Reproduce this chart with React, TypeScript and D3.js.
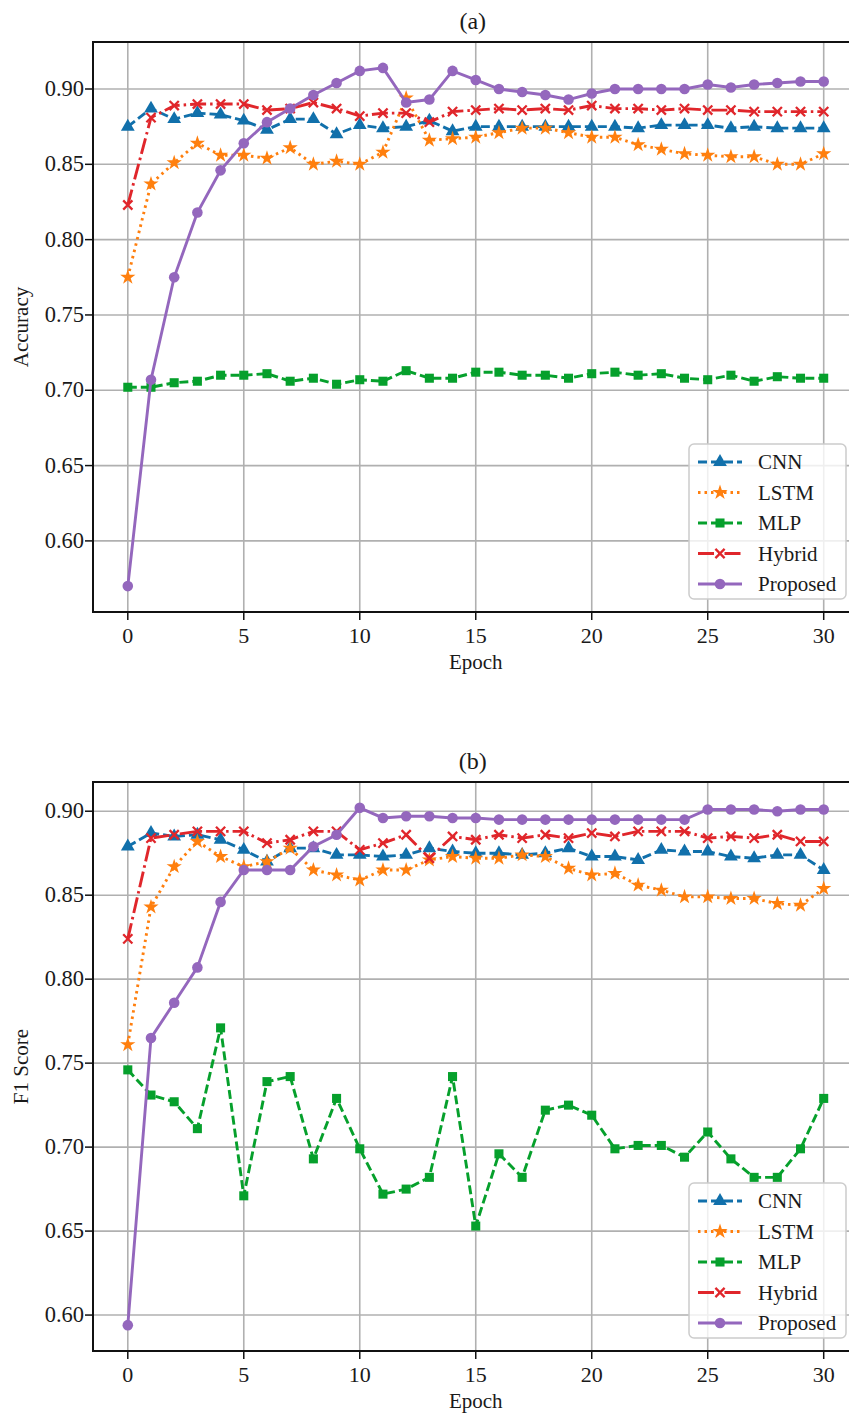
import React from 'react';
import * as d3 from 'd3';

// series names + look (matplotlib-ish)
const names = ['CNN', 'LSTM', 'MLP', 'Hybrid', 'Proposed'];
const colors = ['#1170ab', '#ff7f0e', '#06a02c', '#e0262b', '#9467bd'];
const dashes = ['9,4', '2.5,4', '9,4', '16,4,2.5,4', 'none'];
const markers = ['triangle', 'star', 'square', 'x', 'circle'];

const xTicks = [0, 5, 10, 15, 20, 25, 30];
const yTicks = [0.6, 0.65, 0.7, 0.75, 0.8, 0.85, 0.9];

// (a) accuracy per epoch 0..30
const accCNN = [0.875, 0.887, 0.880, 0.884, 0.883, 0.879, 0.873, 0.880, 0.880, 0.870, 0.876, 0.874, 0.875, 0.879, 0.872, 0.875, 0.875, 0.875, 0.875, 0.875, 0.875, 0.875, 0.874, 0.876, 0.876, 0.876, 0.874, 0.875, 0.874, 0.874, 0.874];
const accLSTM = [0.775, 0.837, 0.851, 0.864, 0.856, 0.856, 0.854, 0.861, 0.850, 0.852, 0.850, 0.858, 0.894, 0.866, 0.867, 0.868, 0.871, 0.874, 0.874, 0.871, 0.868, 0.868, 0.863, 0.860, 0.857, 0.856, 0.855, 0.855, 0.850, 0.850, 0.857];
const accMLP = [0.702, 0.702, 0.705, 0.706, 0.710, 0.710, 0.711, 0.706, 0.708, 0.704, 0.707, 0.706, 0.713, 0.708, 0.708, 0.712, 0.712, 0.710, 0.710, 0.708, 0.711, 0.712, 0.710, 0.711, 0.708, 0.707, 0.710, 0.706, 0.709, 0.708, 0.708];
const accHybrid = [0.823, 0.881, 0.889, 0.890, 0.890, 0.890, 0.886, 0.887, 0.891, 0.887, 0.882, 0.884, 0.884, 0.878, 0.885, 0.886, 0.887, 0.886, 0.887, 0.886, 0.889, 0.887, 0.887, 0.886, 0.887, 0.886, 0.886, 0.885, 0.885, 0.885, 0.885];
const accProposed = [0.570, 0.707, 0.775, 0.818, 0.846, 0.864, 0.878, 0.887, 0.896, 0.904, 0.912, 0.914, 0.891, 0.893, 0.912, 0.906, 0.900, 0.898, 0.896, 0.893, 0.897, 0.900, 0.900, 0.900, 0.900, 0.903, 0.901, 0.903, 0.904, 0.905, 0.905];

// (b) F1 score per epoch 0..30
const f1CNN = [0.879, 0.887, 0.885, 0.886, 0.883, 0.877, 0.870, 0.878, 0.878, 0.874, 0.874, 0.873, 0.874, 0.878, 0.876, 0.875, 0.875, 0.874, 0.875, 0.878, 0.873, 0.873, 0.871, 0.877, 0.876, 0.876, 0.873, 0.872, 0.874, 0.874, 0.865];
const f1LSTM = [0.761, 0.843, 0.867, 0.882, 0.873, 0.867, 0.870, 0.878, 0.865, 0.862, 0.859, 0.865, 0.865, 0.871, 0.873, 0.872, 0.872, 0.874, 0.873, 0.866, 0.862, 0.863, 0.856, 0.853, 0.849, 0.849, 0.848, 0.848, 0.845, 0.844, 0.854];
const f1MLP = [0.746, 0.731, 0.727, 0.711, 0.771, 0.671, 0.739, 0.742, 0.693, 0.729, 0.699, 0.672, 0.675, 0.682, 0.742, 0.653, 0.696, 0.682, 0.722, 0.725, 0.719, 0.699, 0.701, 0.701, 0.694, 0.709, 0.693, 0.682, 0.682, 0.699, 0.729];
const f1Hybrid = [0.824, 0.884, 0.886, 0.888, 0.888, 0.888, 0.881, 0.883, 0.888, 0.888, 0.877, 0.881, 0.886, 0.872, 0.885, 0.883, 0.886, 0.884, 0.886, 0.884, 0.887, 0.885, 0.888, 0.888, 0.888, 0.884, 0.885, 0.884, 0.886, 0.882, 0.882];
const f1Proposed = [0.594, 0.765, 0.786, 0.807, 0.846, 0.865, 0.865, 0.865, 0.879, 0.886, 0.902, 0.896, 0.897, 0.897, 0.896, 0.896, 0.895, 0.895, 0.895, 0.895, 0.895, 0.895, 0.895, 0.895, 0.895, 0.901, 0.901, 0.901, 0.900, 0.901, 0.901];

const width = 849;
const height = 1417;
const left = 93;
const right = 858.5;
const txt = { fontFamily: '"Liberation Serif"', fill: '#1a1a1a' };

const Marker = ({ kind, x, y, color }) => {
  if (kind === 'circle') return <circle cx={x} cy={y} r={5.3} fill={color} />;
  if (kind === 'x') {
    const s = 4.6;
    return (
      <path d={`M${x - s},${y - s}L${x + s},${y + s}M${x - s},${y + s}L${x + s},${y - s}`}
        stroke={color} strokeWidth={2.3} fill="none" />
    );
  }
  const type = kind === 'triangle' ? d3.symbolTriangle : kind === 'star' ? d3.symbolStar : d3.symbolSquare;
  const size = kind === 'triangle' ? 82 : kind === 'star' ? 72 : 82;
  return <path d={d3.symbol(type, size)()} transform={`translate(${x},${y})`} fill={color} />;
};

const Panel = ({ title, yLabel, series, top, bottom }) => {
  const all = series.flat();
  const lo = d3.min(all), hi = d3.max(all);
  const pad = (hi - lo) * 0.05;

  const x = d3.scaleLinear().domain([-1.5, 31.5]).range([left, right]);
  const y = d3.scaleLinear().domain([lo - pad, hi + pad]).range([bottom, top]);

  const line = d3.line().x((d, i) => x(i)).y(d => y(d));

  const legTop = bottom - 168;
  const legBottom = bottom - 13;

  return (
    <g>
      {/* grid */}
      {xTicks.map(t => (
        <line key={'gx' + t} x1={x(t)} x2={x(t)} y1={top} y2={bottom} stroke="#b0b0b0" strokeWidth={1.6} />
      ))}
      {yTicks.map(t => (
        <line key={'gy' + t} x1={left} x2={width} y1={y(t)} y2={y(t)} stroke="#b0b0b0" strokeWidth={1.6} />
      ))}

      {series.map((vals, k) => (
        <g key={names[k]}>
          <path d={line(vals)} fill="none" stroke={colors[k]} strokeWidth={2.9}
            strokeDasharray={dashes[k]} />
          {vals.map((v, i) => (
            <Marker key={i} kind={markers[k]} x={x(i)} y={y(v)} color={colors[k]} />
          ))}
        </g>
      ))}

      {/* spines */}
      <rect x={left} y={top} width={right - left} height={bottom - top} fill="none" stroke="#111" strokeWidth={2} />

      {/* ticks */}
      {xTicks.map(t => (
        <g key={'tx' + t}>
          <line x1={x(t)} x2={x(t)} y1={bottom} y2={bottom + 8} stroke="#111" strokeWidth={1.5} />
          <text x={x(t)} y={bottom + 31} fontSize={22} textAnchor="middle" style={txt}>{t}</text>
        </g>
      ))}
      {yTicks.map(t => (
        <g key={'ty' + t}>
          <line x1={left - 8} x2={left} y1={y(t)} y2={y(t)} stroke="#111" strokeWidth={1.5} />
          <text x={84} y={y(t) + 7} fontSize={22.5} textAnchor="end" style={txt}>{t.toFixed(2)}</text>
        </g>
      ))}

      <text x={(left + right) / 2} y={bottom + 57} fontSize={21} textAnchor="middle" style={txt}>Epoch</text>
      <text transform={`translate(28,${(top + bottom) / 2}) rotate(-90)`} fontSize={21} textAnchor="middle" style={txt}>{yLabel}</text>
      <text x={(left + right) / 2 - 3} y={top - 13} fontSize={24} textAnchor="middle" style={txt}>{title}</text>

      {/* legend */}
      <rect x={689} y={legTop} width={157} height={legBottom - legTop} rx={5}
        fill="#fff" fillOpacity={0.8} stroke="#cccccc" strokeWidth={1.5} />
      {names.map((n, k) => {
        const cy = legTop + 18 + k * 30.5;
        return (
          <g key={'lg' + n}>
            <line x1={698} x2={742} y1={cy} y2={cy} stroke={colors[k]} strokeWidth={2.9} strokeDasharray={dashes[k]} />
            <Marker kind={markers[k]} x={720} y={cy} color={colors[k]} />
            <text x={758} y={cy + 7} fontSize={21} style={txt}>{n}</text>
          </g>
        );
      })}
    </g>
  );
};

export default function App() {
  return (
    <svg width={width} height={height} style={{ position: 'absolute', left: 0, top: 0, background: '#fff' }}>
      <rect width={width} height={height} fill="#fff" />
      <Panel title="(a)" yLabel="Accuracy" top={42} bottom={612}
        series={[accCNN, accLSTM, accMLP, accHybrid, accProposed]} />
      <Panel title="(b)" yLabel="F1 Score" top={782} bottom={1351}
        series={[f1CNN, f1LSTM, f1MLP, f1Hybrid, f1Proposed]} />
    </svg>
  );
}
